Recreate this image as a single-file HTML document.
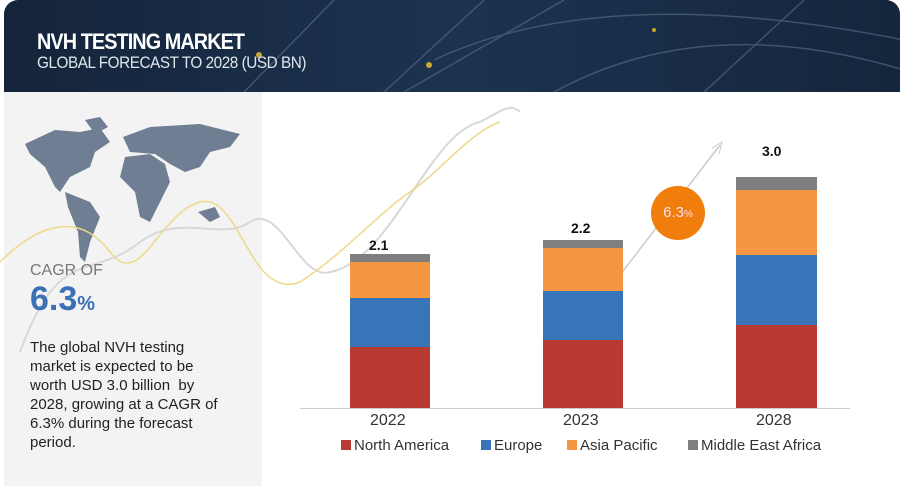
<!DOCTYPE html>
<html><head><meta charset="utf-8"><style>
body{margin:0;width:900px;height:486px;overflow:hidden;background:#fff;font-family:"Liberation Sans",sans-serif;position:relative}
.hdr{position:absolute;left:4px;top:0;width:896px;height:92px;background:linear-gradient(90deg,#14243a,#1c3350 50%,#14263c);border-radius:14px 14px 0 0;overflow:hidden}
.t1{position:absolute;left:33px;top:29px;color:#fff;font-weight:bold;font-size:22px;letter-spacing:-1px;transform:scaleX(0.9);transform-origin:left}
.t2{position:absolute;left:33px;top:53px;color:#dfe6ee;font-size:17px;letter-spacing:-0.5px;transform:scaleX(0.9);transform-origin:left}
.left{position:absolute;left:4px;top:92px;width:258px;height:394px;background:#f3f3f4}
.abs{position:absolute}
.bar{position:absolute}
.lbl{position:absolute;font-weight:bold;font-size:14px;color:#111}
.yr{position:absolute;font-size:16px;color:#333;top:412px}
.leg{position:absolute;top:437px;font-size:15px;color:#333}
.sw{display:inline-block;width:10px;height:10px;margin-right:3px}
</style></head><body>
<div class="hdr">
<svg width="896" height="92" style="position:absolute;left:0;top:0">
<g stroke="#5a6f88" stroke-width="1.5" fill="none" opacity="0.6">
<path d="M240 92 L330 0"/><path d="M380 92 L480 0"/><path d="M400 92 L560 0"/><path d="M700 92 L800 0"/><path d="M430 60 Q600 -20 900 40"/><path d="M550 92 Q700 10 900 70"/>
</g>
<circle cx="255" cy="55" r="3" fill="#c8a830"/><circle cx="425" cy="65" r="3" fill="#c8a830"/><circle cx="650" cy="30" r="2" fill="#c8a830"/>
</svg>
<div class="t1">NVH TESTING MARKET</div>
<div class="t2">GLOBAL FORECAST TO 2028 (USD BN)</div>
</div>
<div class="left"></div>
<svg class="abs" style="left:0;top:92px" width="900" height="394">
<g fill="#6f7e93">
<path d="M25 52 L55 38 L80 40 L100 36 L110 50 L95 60 L90 75 L70 85 L60 100 L55 95 L45 75 L30 62 Z"/>
<path d="M85 28 L100 25 L108 35 L95 42 Z"/>
<path d="M65 100 L90 110 L100 125 L90 150 L85 170 L80 165 L78 140 L68 115 Z"/>
<path d="M123 45 L150 35 L200 32 L240 42 L230 55 L210 60 L200 75 L185 80 L170 72 L155 62 L130 60 Z"/>
<path d="M125 65 L150 62 L165 72 L170 90 L160 110 L150 130 L140 125 L135 100 L120 85 Z"/>
<path d="M198 120 L215 115 L220 125 L210 130 Z"/>
</g>
<path d="M20 260 C60 150 90 190 140 150 C180 120 220 150 250 130 C280 110 300 190 330 180 C390 170 430 40 480 30 C500 20 510 10 520 20" stroke="#d8d8d8" stroke-width="2" fill="none"/>
<path d="M0 170 C40 130 80 120 110 160 C140 200 160 120 200 110 C240 100 250 210 300 190 C340 165 380 120 410 100 C440 80 470 40 500 30" stroke="#ecd98a" stroke-width="1.5" fill="none"/>
</svg>
<div class="abs" style="left:30px;top:262px;font-size:16px;color:#777">CAGR OF</div>
<div class="abs" style="left:30px;top:280px;font-size:34px;font-weight:bold;color:#3b6fb6">6.3<span style="font-size:20px">%</span></div>
<div class="abs" style="left:30px;top:338px;width:230px;font-size:15px;line-height:19px;color:#222;white-space:nowrap">The global NVH testing<br>market is expected to be<br>worth USD 3.0 billion&nbsp; by<br>2028, growing at a CAGR of<br>6.3% during the forecast<br>period.</div>
<div class="abs" style="left:300px;top:408px;width:550px;height:1px;background:#ccc"></div>
<svg class="abs" style="left:600px;top:140px" width="130" height="140"><path d="M20 135 L120 5" stroke="#ccc" stroke-width="1.5"/><path d="M112 8 L122 2 L119 14" stroke="#ccc" fill="none"/></svg>
<div class="abs" style="left:651px;top:186px;width:54px;height:54px;border-radius:50%;background:#f07d0c;color:#fde;font-size:15px;line-height:54px;text-align:center">6.3<span style="font-size:10px">%</span></div>
<div class="bar" style="left:350px;width:80px;top:254px;height:8px;background:#7f7f7f"></div>
<div class="bar" style="left:350px;width:80px;top:262px;height:36px;background:#f59742"></div>
<div class="bar" style="left:350px;width:80px;top:298px;height:49px;background:#3a74b8"></div>
<div class="bar" style="left:350px;width:80px;top:347px;height:61px;background:#b83a32"></div>
<div class="bar" style="left:543px;width:80px;top:240px;height:8px;background:#7f7f7f"></div>
<div class="bar" style="left:543px;width:80px;top:248px;height:43px;background:#f59742"></div>
<div class="bar" style="left:543px;width:80px;top:291px;height:49px;background:#3a74b8"></div>
<div class="bar" style="left:543px;width:80px;top:340px;height:68px;background:#b83a32"></div>
<div class="bar" style="left:736px;width:81px;top:177px;height:13px;background:#7f7f7f"></div>
<div class="bar" style="left:736px;width:81px;top:190px;height:65px;background:#f59742"></div>
<div class="bar" style="left:736px;width:81px;top:255px;height:70px;background:#3a74b8"></div>
<div class="bar" style="left:736px;width:81px;top:325px;height:83px;background:#b83a32"></div>
<div class="lbl" style="left:369px;top:237px">2.1</div>
<div class="lbl" style="left:571px;top:220px">2.2</div>
<div class="lbl" style="left:762px;top:143px">3.0</div>
<div class="yr" style="left:370px">2022</div>
<div class="yr" style="left:563px">2023</div>
<div class="yr" style="left:756px">2028</div>
<div class="leg" style="left:341px"><span class="sw" style="background:#b83a32"></span>North America</div>
<div class="leg" style="left:481px"><span class="sw" style="background:#3a74b8"></span>Europe</div>
<div class="leg" style="left:567px"><span class="sw" style="background:#f59742"></span>Asia Pacific</div>
<div class="leg" style="left:688px"><span class="sw" style="background:#7f7f7f"></span>Middle East Africa</div>
</body></html>
